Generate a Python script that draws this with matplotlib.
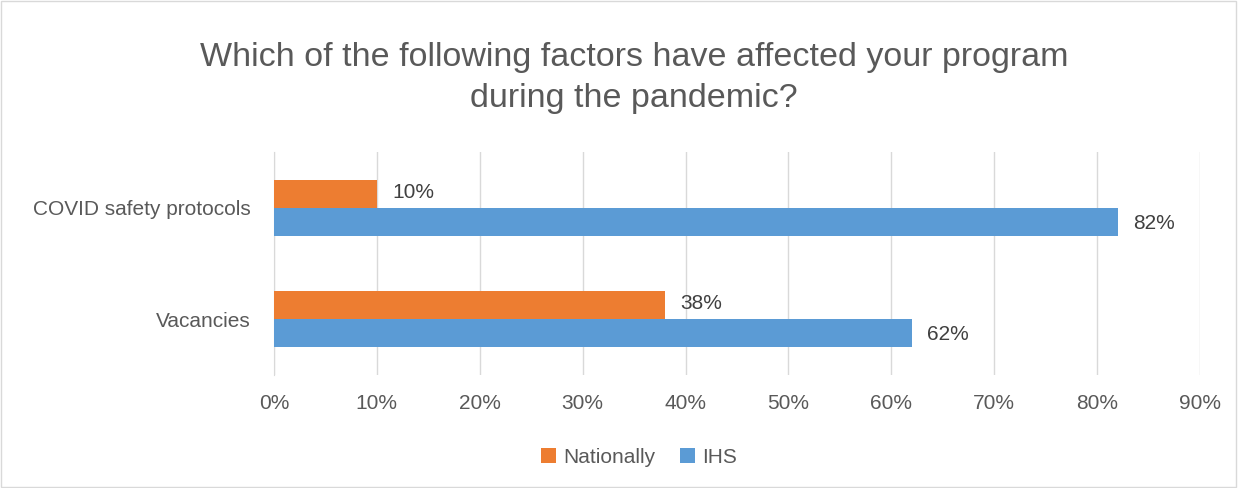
import matplotlib.pyplot as plt
from matplotlib.patches import Rectangle
from matplotlib.ticker import FuncFormatter

# data
categories = ["Vacancies", "COVID safety protocols"]
nationally = [0.38, 0.10]
ihs = [0.62, 0.82]
x_ticks = [0, 0.1, 0.2, 0.3, 0.4, 0.5, 0.6, 0.7, 0.8, 0.9]

ORANGE = "#ED7D31"
BLUE = "#5B9BD5"
TEXT = "#595959"
GRID = "#D9D9D9"

plt.rcParams["font.family"] = ["Liberation Sans", "DejaVu Sans"]

fig = plt.figure(figsize=(12.38, 4.88), dpi=100)
ax = fig.add_axes([0.2213, 0.2316, 0.748, 0.457])

pos = list(range(len(categories)))
h = 0.25
ax.barh([p + h / 2 for p in pos], nationally, height=h, color=ORANGE, label="Nationally", zorder=3)
ax.barh([p - h / 2 for p in pos], ihs, height=h, color=BLUE, label="IHS", zorder=3)

for p, v in zip(pos, nationally):
    ax.annotate(f"{v:.0%}", (v, p + h / 2), xytext=(11, 1), textcoords="offset points",
                va="center", ha="left", fontsize=15, color="#404040")
for p, v in zip(pos, ihs):
    ax.annotate(f"{v:.0%}", (v, p - h / 2), xytext=(11, -1), textcoords="offset points",
                va="center", ha="left", fontsize=15, color="#404040")

ax.set_xlim(0, 0.9)
ax.set_ylim(-0.5, 1.5)
ax.set_xticks(x_ticks)
ax.xaxis.set_major_formatter(FuncFormatter(lambda v, _: f"{v:.0%}"))
ax.set_yticks(pos)
ax.set_yticklabels(categories)
ax.tick_params(axis="both", length=0, labelsize=15, colors=TEXT)
ax.tick_params(axis="x", pad=14)
ax.tick_params(axis="y", pad=17)
ax.grid(axis="x", color=GRID, linewidth=1, zorder=0)
for s in ["top", "right", "bottom"]:
    ax.spines[s].set_visible(False)
ax.spines["left"].set_color(GRID)

fig.text(0.512, 0.84, "Which of the following factors have affected your program\nduring the pandemic?",
         ha="center", va="center", fontsize=24.5, color=TEXT, linespacing=1.45)

fig.legend(loc="lower center", bbox_to_anchor=(0.516, 0.005), ncol=2, frameon=False,
           fontsize=15, labelcolor=TEXT, handlelength=0.7, handleheight=0.7,
           columnspacing=1.2, handletextpad=0.35)

fig.patches.append(Rectangle((0.001, 0.002), 0.997, 0.995, transform=fig.transFigure,
                             fill=False, edgecolor=GRID, linewidth=1))

fig.savefig("out.png", dpi=100, facecolor="white")
